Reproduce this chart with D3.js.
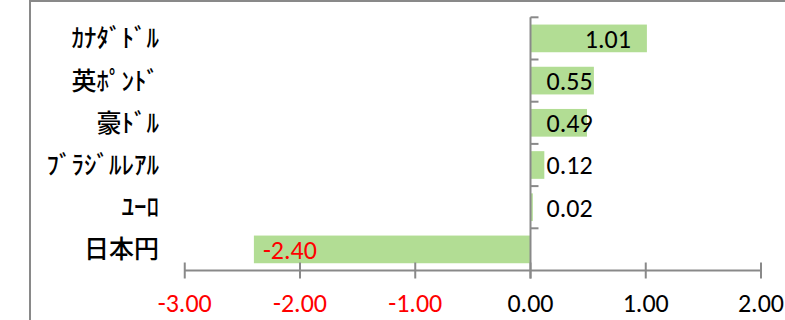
<!DOCTYPE html>
<html>
<head>
<meta charset="utf-8">
<script src="https://cdn.jsdelivr.net/npm/d3@7"></script>
<style>
  html, body { margin: 0; padding: 0; background: #fff; }
  svg { display: block; }
</style>
</head>
<body>
<svg id="chart" width="785" height="320"></svg>
<script>
// Currency names (half-width katakana as in the source sheet) and their change values
const categories = ["ｶﾅﾀﾞﾄﾞﾙ", "英ﾎﾟﾝﾄﾞ", "豪ﾄﾞﾙ", "ﾌﾞﾗｼﾞﾙﾚｱﾙ", "ﾕｰﾛ", "日本円"];
const values = [1.01, 0.55, 0.49, 0.12, 0.02, -2.40];
const tickValues = [-3, -2, -1, 0, 1, 2];

const W = 785, H = 320;
const svg = d3.select("#chart");
const axisColor = "#898989";
const barColor = "#B2DD94";
const numFont = "Calibri, Carlito, 'Open Sans', sans-serif";
const cjkFont = "'Noto Sans CJK JP', sans-serif";
const fmt = d3.formatLocale({ decimal: ".", thousands: ",", grouping: [3], currency: ["", ""], minus: "-" }).format(".2f");

// Outer frame pieces (top edge and left edge of the chart area)
svg.append("line").attr("x1", 30).attr("x2", W).attr("y1", 1).attr("y2", 1)
  .attr("stroke", axisColor).attr("stroke-width", 2);
svg.append("line").attr("x1", 30).attr("x2", 30).attr("y1", 0).attr("y2", H)
  .attr("stroke", axisColor).attr("stroke-width", 2);

const x = d3.scaleLinear().domain([-3, 2]).range([184.75, 761]);
const y = d3.scaleBand().domain(categories).range([17.3, 270.5])
  .paddingInner(0.344).paddingOuter(0.172);

const data = categories.map((c, i) => ({ c, v: values[i] }));

// Bars
svg.append("g").selectAll("rect").data(data).join("rect")
  .attr("x", d => x(Math.min(0, d.v)))
  .attr("width", d => Math.abs(x(d.v) - x(0)))
  .attr("y", d => y(d.c))
  .attr("height", y.bandwidth())
  .attr("fill", barColor);

// Horizontal value axis with crossing ticks
const axisY = 270.5;
const xAxis = svg.append("g");
xAxis.append("line").attr("x1", x(-3)).attr("x2", x(2)).attr("y1", axisY).attr("y2", axisY)
  .attr("stroke", axisColor).attr("stroke-width", 2);
xAxis.selectAll("line.tick").data(tickValues).join("line").attr("class", "tick")
  .attr("x1", d => x(d)).attr("x2", d => x(d))
  .attr("y1", axisY - 8).attr("y2", axisY + 8)
  .attr("stroke", axisColor).attr("stroke-width", 2);
xAxis.selectAll("text").data(tickValues).join("text")
  .attr("x", d => x(d)).attr("y", 312)
  .attr("text-anchor", "middle")
  .attr("font-family", numFont).attr("font-size", 26)
  .attr("fill", d => d < 0 ? "#FF0000" : "#000")
  .text(d => fmt(d));

// Vertical category axis at zero, with short ticks between categories
const yAxis = svg.append("g");
const bandEdges = categories.map(c => y(c) - y.step() * y.paddingInner() / 2);
yAxis.append("line").attr("x1", x(0)).attr("x2", x(0))
  .attr("y1", y.range()[0]).attr("y2", axisY + 8)
  .attr("stroke", axisColor).attr("stroke-width", 2);
yAxis.selectAll("line.tick").data(bandEdges).join("line").attr("class", "tick")
  .attr("x1", x(0)).attr("x2", x(0) + 8)
  .attr("y1", d => d).attr("y2", d => d)
  .attr("stroke", axisColor).attr("stroke-width", 2);

// Category labels
svg.append("g").selectAll("text").data(categories).join("text")
  .attr("x", 159)
  .attr("y", d => y(d) + y.bandwidth() / 2)
  .attr("dy", "0.36em")
  .attr("text-anchor", "end")
  .attr("font-family", cjkFont).attr("font-size", 25).attr("font-weight", 500)
  .attr("fill", "#000")
  .text(d => d);

// Value labels: large bars carry the label inside their end, small ones next to the base
svg.append("g").selectAll("text").data(data).join("text")
  .attr("x", d => Math.abs(d.v) >= 1 ? (d.v > 0 ? x(d.v) - 16 : x(d.v) + 9) : x(0) + 16)
  .attr("text-anchor", d => Math.abs(d.v) >= 1 && d.v > 0 ? "end" : "start")
  .attr("y", d => y(d.c) + y.bandwidth() / 2)
  .attr("dy", "0.36em")
  .attr("font-family", numFont).attr("font-size", 26)
  .attr("fill", d => d.v < 0 ? "#FF0000" : "#000")
  .text(d => fmt(d.v));
</script>
</body>
</html>
